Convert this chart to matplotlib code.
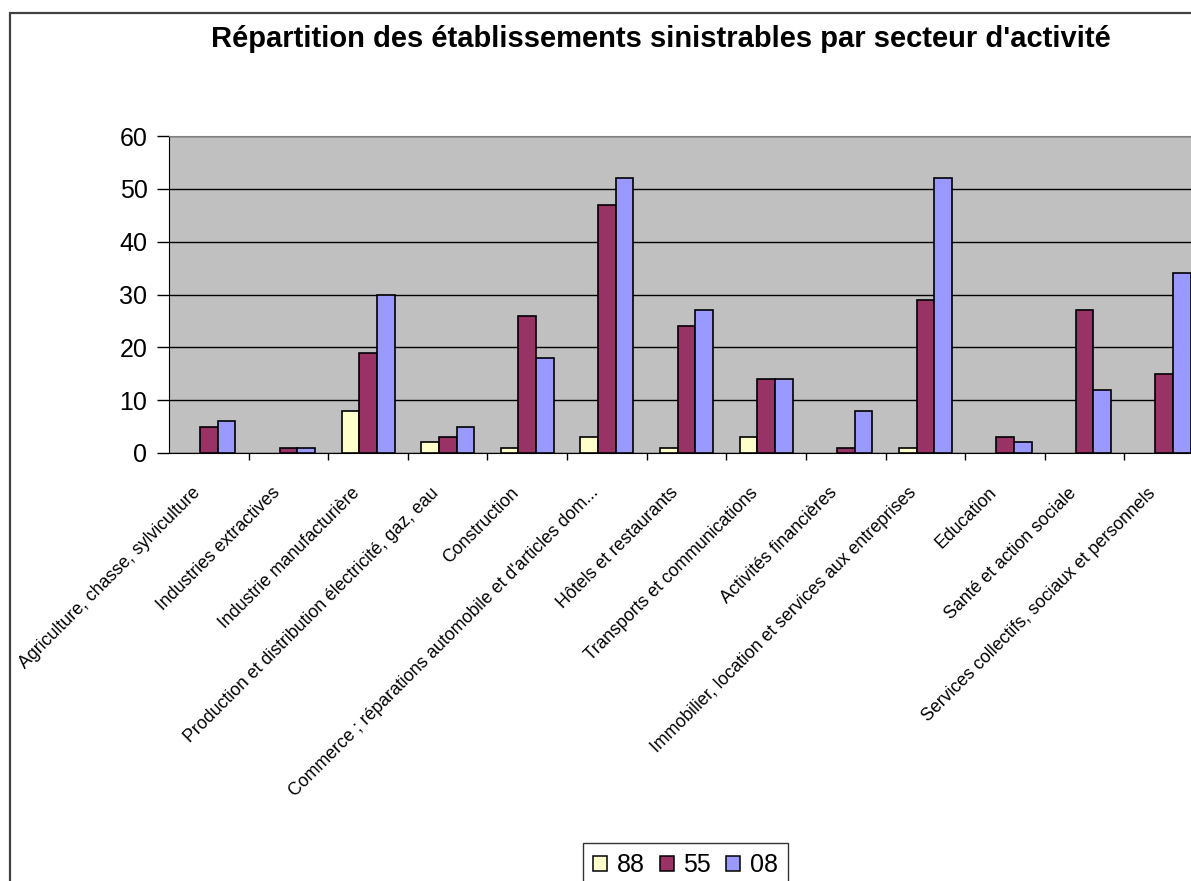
import numpy as np
import matplotlib.pyplot as plt
from matplotlib.patches import Rectangle, Patch

plt.rcParams['font.family'] = ['Liberation Sans', 'DejaVu Sans']

categories = [
    "Agriculture, chasse, sylviculture",
    "Industries extractives",
    "Industrie manufacturière",
    "Production et distribution électricité, gaz, eau",
    "Construction",
    "Commerce ; réparations automobile et d'articles dom...",
    "Hôtels et restaurants",
    "Transports et communications",
    "Activités financières",
    "Immobilier, location et services aux entreprises",
    "Education",
    "Santé et action sociale",
    "Services collectifs, sociaux et personnels",
]
series_names = ["88", "55", "08"]
v88 = [0, 0, 8, 2, 1, 3, 1, 3, 0, 1, 0, 0, 0]
v55 = [5, 1, 19, 3, 26, 47, 24, 14, 1, 29, 3, 27, 15]
v08 = [6, 1, 30, 5, 18, 52, 27, 14, 8, 52, 2, 12, 34]
colors = ["#FFFFCC", "#993366", "#9999FF"]
title = "Répartition des établissements sinistrables par secteur d'activité"

W, H = 1191, 881
fig = plt.figure(figsize=(W / 100, H / 100), dpi=100)

# outer chart frame (runs off the right and bottom edges)
fig.patches.append(Rectangle((10 / W, -0.2), 2.0, 1.2 - 13 / H, transform=fig.transFigure,
                             fill=False, edgecolor="#404040", linewidth=1.6))

left, right, top, bottom = 169, 1204, 136, 453
ax = fig.add_axes([left / W, 1 - bottom / H, (right - left) / W, (bottom - top) / H])
ax.set_facecolor("#C0C0C0")

n = len(categories)
x = np.arange(n)
bw = 1 / 4.5
for k, vals in enumerate([v88, v55, v08]):
    h = np.array(vals, dtype=float)
    h[h == 0] = np.nan  # empty values draw nothing
    ax.bar(x + (k - 1) * bw, h, width=bw, color=colors[k], edgecolor="black",
           linewidth=1.2, zorder=3, label=series_names[k])

ax.set_xlim(-0.5, n - 0.5)
ax.set_ylim(0, 60)
ax.set_yticks(range(0, 61, 10))
ax.yaxis.grid(True, color="black", linewidth=1.0, zorder=1)
ax.set_axisbelow(True)
ax.tick_params(axis="y", labelsize=18, length=9, width=1, pad=6.5, direction="out")
ax.set_xticks(np.arange(n) + 0.5)
ax.set_xticklabels([])
ax.tick_params(axis="x", length=5, width=1, direction="out")
ax.spines["right"].set_visible(False)
ax.spines["top"].set_color("#808080")
ax.spines["left"].set_color("black")
ax.spines["bottom"].set_color("black")

for i, lab in enumerate(categories):
    ax.annotate(lab, xy=(i, 0), xycoords=("data", "axes fraction"),
                xytext=(-8, -27), textcoords="offset points",
                rotation=45, ha="right", va="center", rotation_mode="anchor",
                fontsize=12.8, annotation_clip=False)

fig.text(661 / W, 1 - 47 / H, title, ha="center", va="baseline",
         fontsize=21, fontweight="bold")

handles = [Patch(facecolor=c, edgecolor="black", linewidth=1.1) for c in colors]
fig.legend(handles, series_names, loc="upper left", bbox_to_anchor=(583 / W, 1 - 843 / H),
           ncol=3, fontsize=18, frameon=True, fancybox=False, edgecolor="black",
           handlelength=0.55, handleheight=0.55, handletextpad=0.4, columnspacing=0.6,
           borderpad=0.4, borderaxespad=0)

fig.savefig("out.png", dpi=100)
